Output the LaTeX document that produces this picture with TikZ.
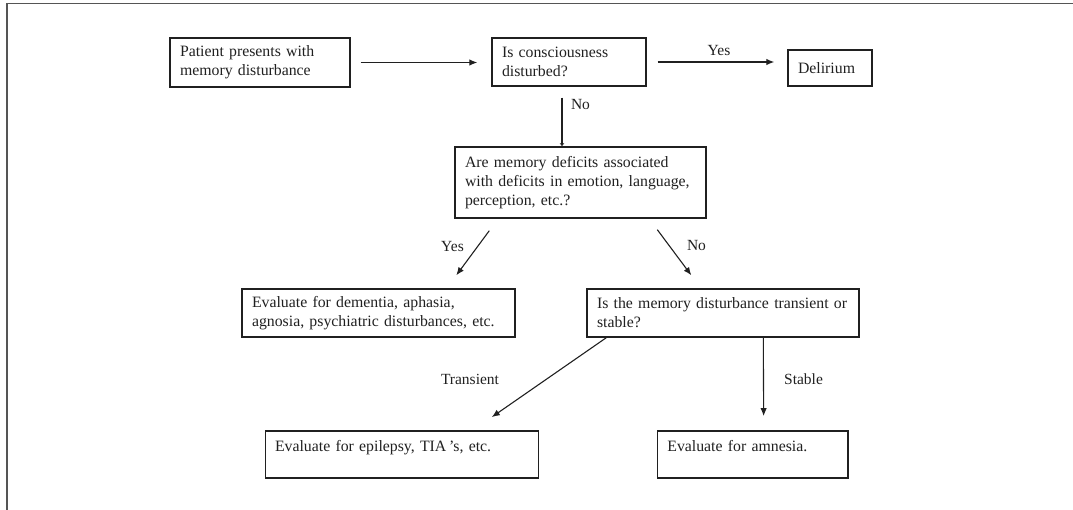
\documentclass[tikz,border=0pt]{standalone}
\usepackage{fontspec}
\setmainfont{Liberation Serif}
\usetikzlibrary{arrows.meta}
\definecolor{ink}{HTML}{202020}
\definecolor{framegray}{HTML}{555555}
\tikzset{
  box/.style={draw=ink, line width=1.4pt, rectangle, inner ysep=0pt, inner xsep=10pt,
    align=left, text=ink, font=\fontsize{15.8}{19}\selectfont},
  lowbox/.style={box, inner xsep=9.5pt, text height=21pt, text depth=26pt},
  conn/.style={draw=ink, line width=1.1pt, -{Latex[length=8pt,width=6.5pt]}},
  tag/.style={text=ink, font=\fontsize{15.5}{18}\selectfont, inner sep=0pt}
}
\begin{document}
\begin{tikzpicture}[x=1pt, y=1pt]
  \useasboundingbox (0,0) rectangle (1073,-510);
  % outer frame (top and left edges)
  \draw[framegray, line width=1.8pt] (7,-510) -- (7,-3.5) -- (1073,-3.5);

  % boxes
  \node[box, text width=160pt, minimum height=49pt] (start) at (260,-62.5)
    {Patient presents with\\memory disturbance};
  \node[box, text width=134pt, minimum height=48pt] (consc) at (569,-62)
    {Is consciousness\\disturbed?};
  \node[box, text width=64pt, minimum height=36pt] (delir) at (830,-68)
    {Delirium};
  \node[box, text width=231pt, minimum height=71pt] (assoc) at (580.5,-182.5)
    {Are memory deficits associated\\with deficits in emotion, language,\\perception, etc.?};
  \node[box, text width=253pt, minimum height=48pt] (dement) at (378.5,-313)
    {Evaluate for dementia, aphasia,\\agnosia, psychiatric disturbances, etc.};
  \node[box, text width=252pt, minimum height=48pt] (trans) at (723,-313)
    {Is the memory disturbance transient or\\stable?};
  \node[lowbox, text width=254pt] (epil) at (402,-454.3)
    {Evaluate for epilepsy, TIA\,’s, etc.};
  \node[lowbox, inner xsep=10pt, text width=170.7pt] (amnes) at (752.7,-454.3)
    {Evaluate for amnesia.};

  % connectors
  \draw[conn, shorten <=10pt, shorten >=14pt] (start.east) -- (start.east -| consc.west);
  \draw[conn, shorten <=11pt, shorten >=13pt] (consc.east) -- (consc.east -| delir.west);
  \draw[draw=ink, line width=1.1pt, -{Latex[length=3pt,width=5pt]}, shorten <=11pt]
    ([xshift=-7pt]consc.south) -- ([xshift=-7pt]consc.south |- assoc.north);
  \draw[conn] ([xshift=35pt,yshift=-12pt]assoc.south west) -- ([xshift=215pt,yshift=13pt]dement.north west);
  \draw[conn] ([xshift=203pt,yshift=-11pt]assoc.south west) -- ([xshift=105pt,yshift=13pt]trans.north west);
  \draw[conn] ([xshift=20pt]trans.south west) -- ([xshift=227pt,yshift=13pt]epil.north west);
  \draw[conn] ([xshift=177pt]trans.south west) -- ([xshift=107pt,yshift=14pt]amnes.north west);

  % connector labels
  \node[tag] (lyes1) at (719,-51) {Yes};
  \node[tag] (lno1) at (580.5,-105) {No};
  \node[tag] (lyes2) at (452.5,-247) {Yes};
  \node[tag] (lno2) at (696.5,-246) {No};
  \node[tag] (ltrans) at (470,-379) {Transient};
  \node[tag] (lstab) at (803.5,-379) {Stable};
\end{tikzpicture}
\end{document}
